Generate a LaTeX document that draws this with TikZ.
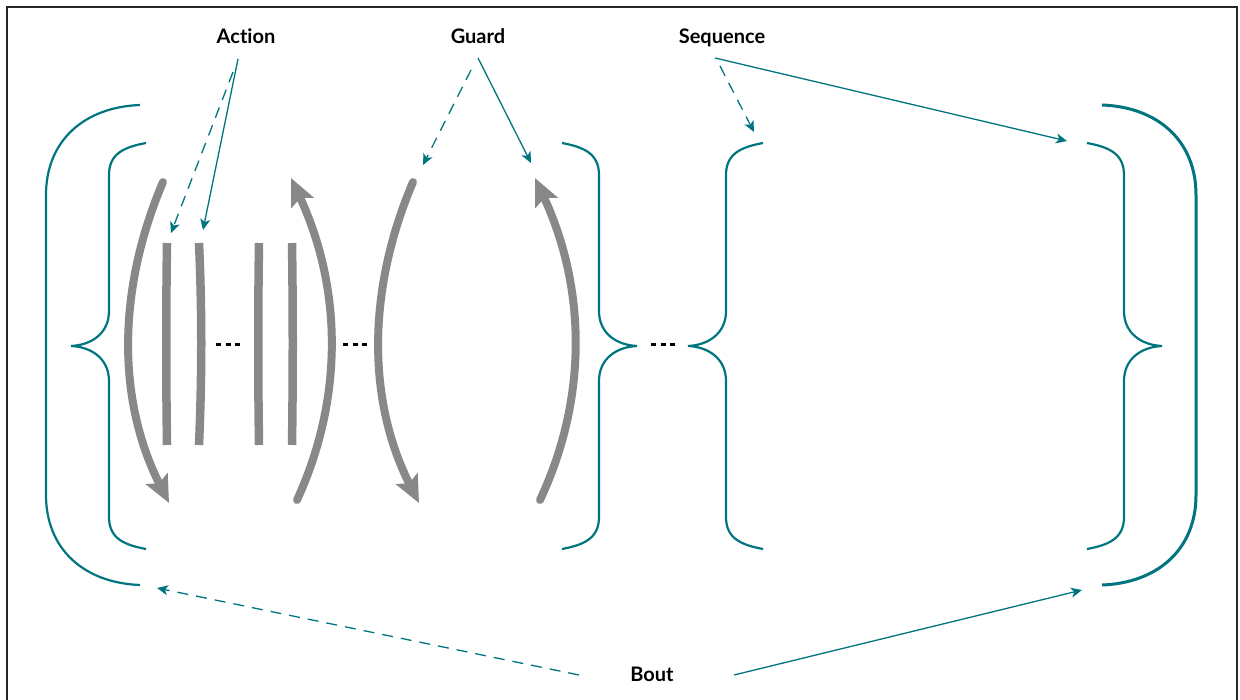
\documentclass[tikz,border=0pt]{standalone}
\usepackage{fontspec}
\setmainfont{Lato}[Ligatures={NoCommon,NoRare}]
\usetikzlibrary{arrows.meta}
\definecolor{petrol}{RGB}{0,117,128}
\definecolor{arcgray}{RGB}{136,136,136}

\tikzset{
  lbl/.style={font=\bfseries\fontsize{20}{22}\selectfont, text=black, inner sep=0pt, anchor=base},
  brace/.style={draw=petrol, line width=2.2pt},
  conn/.style={draw=petrol, line width=1.3pt, -{Stealth[length=11pt,width=10pt,inset=3pt]}},
  dashconn/.style={conn, dash pattern=on 11pt off 8pt},
  flow/.style={draw=arcgray, line width=8pt, line cap=round, -{Stealth[length=27pt,width=24pt,inset=5pt]}},
  bar/.style={draw=arcgray, line width=8.5pt},
  ellip/.style={draw=black, line width=3pt, dash pattern=on 5pt off 4.5pt},
  frame/.style={draw=black!85, line width=1.5pt},
  % opening curly brace, centred on its vertical stroke, tip to the left
  curly/.pic={
    \draw[brace] (37,-203) .. controls (16,-199) and (0,-193) .. (0,-171)
      -- (0,-35) .. controls (0,-13) and (-17,-1) .. (-38,0)
      .. controls (-17,1) and (0,13) .. (0,35)
      -- (0,171) .. controls (0,193) and (16,199) .. (37,203);
  },
  % large opening parenthesis, centred on its vertical stroke
  paren/.pic={
    \draw[brace] (94,-240) .. controls (39,-238) and (0,-205) .. (0,-150)
      -- (0,150) .. controls (0,205) and (39,238) .. (94,240);
  }
}

\begin{document}
\begin{tikzpicture}[x=1pt,y=-1pt]
\useasboundingbox (0,0) rectangle (1240,700);
\draw[frame] (7,700) -- (7,7) -- (1237,7) -- (1237,700);

% bout: outer parentheses
\pic at (46,345) {paren};
\pic[xscale=-1, brace/.append style={line width=3pt}] at (1196,345) {paren};

% guard braces and sequence braces
\pic at (109,346) {curly};
\pic[xscale=-1] at (599,346) {curly};
\pic at (726,346) {curly};
\pic[xscale=-1] at (1124,346) {curly};

% actions
\draw[bar] (167,243) .. controls (166,310) and (166,376) .. (167,445);
\draw[bar] (199,243) .. controls (202,310) and (202,376) .. (199,445);
\draw[bar] (259,243) .. controls (258,310) and (258,376) .. (259,445);
\draw[bar] (292,243) .. controls (293,310) and (293,376) .. (292,445);

% ellipses
\draw[ellip] (216,345) -- (241,345);
\draw[ellip] (343,345) -- (368,345);
\draw[ellip] (651,345) -- (676,345);

% flow arrows of the guards
\draw[flow] (163,182) .. controls (117,290) and (117,400) .. (169,503);
\draw[flow] (297,500) .. controls (343,400) and (343,290) .. (291,178);
\draw[flow] (413,182) .. controls (367,290) and (367,400) .. (419,503);
\draw[flow] (540,500) .. controls (587,400) and (587,290) .. (535,178);

% labels
\node[lbl] (action) at (246,44) {Action};
\node[lbl] (guard) at (478,44) {Guard};
\node[lbl] (sequence) at (722,44) {Sequence};
\node[lbl] (bout) at (652,681) {Bout};

% connector ends
\coordinate (actS) at (238,59);
\coordinate (actD) at (233,72);
\coordinate (actT1) at (171,233);
\coordinate (actT2) at (203,230);
\coordinate (grdS) at (478,58);
\coordinate (grdD) at (471,70);
\coordinate (grdT1) at (423,165);
\coordinate (grdT2) at (531,163);
\coordinate (seqS) at (715,58);
\coordinate (seqD) at (720,66);
\coordinate (seqT1) at (754,132);
\coordinate (seqT2) at (1067,141);
\coordinate (botD) at (579,675);
\coordinate (botS) at (734,675);
\coordinate (botT1) at (157,588);
\coordinate (botT2) at (1082,590);

\draw[dashconn] (actD) -- (actT1);
\draw[conn] (actS) -- (actT2);
\draw[dashconn] (grdD) -- (grdT1);
\draw[conn] (grdS) -- (grdT2);
\draw[dashconn] (seqD) -- (seqT1);
\draw[conn] (seqS) -- (seqT2);
\draw[dashconn] (botD) -- (botT1);
\draw[conn] (botS) -- (botT2);
\end{tikzpicture}
\end{document}
